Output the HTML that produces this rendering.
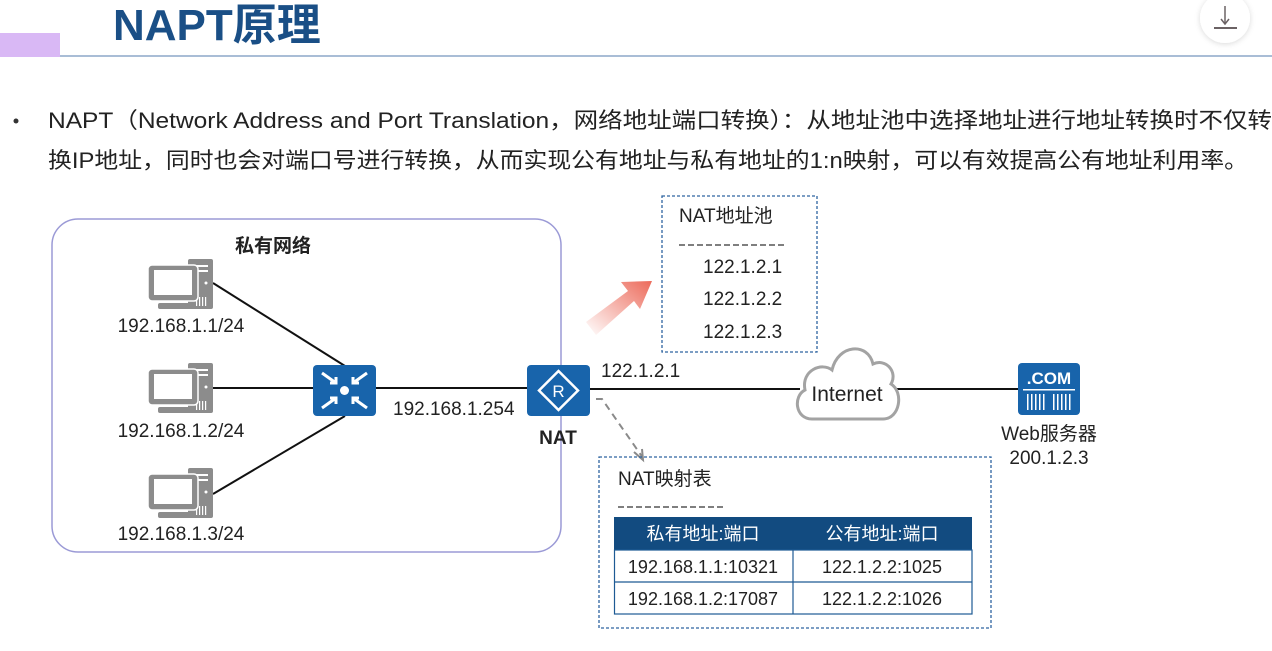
<!DOCTYPE html>
<html><head><meta charset="utf-8"><style>
html,body{margin:0;padding:0;background:#fff;}
body{width:1272px;height:651px;overflow:hidden;position:relative;font-family:"Liberation Sans","Noto Sans CJK SC",sans-serif;}
</style></head><body>
<svg width="1272" height="651" viewBox="0 0 1272 651" xmlns="http://www.w3.org/2000/svg" style="position:absolute;left:0;top:0;font-family:'Liberation Sans','Noto Sans CJK SC',sans-serif">
<defs>
<g id="pc">
 <rect x="40" y="0" width="25" height="50" rx="2" fill="#8c8c8c"/>
 <rect x="44" y="6" width="16" height="2" fill="#fff"/>
 <rect x="44" y="11" width="16" height="2" fill="#fff"/>
 <circle cx="58" cy="24" r="1.5" fill="#fff"/>
 <rect x="48" y="38" width="1.2" height="9" fill="#fff"/><rect x="51" y="38" width="1.2" height="9" fill="#fff"/><rect x="54" y="38" width="1.2" height="9" fill="#fff"/><rect x="57" y="38" width="1.2" height="9" fill="#fff"/>
 <rect x="0" y="6" width="50" height="36" rx="4" fill="#8c8c8c" stroke="#fff" stroke-width="1.5"/>
 <rect x="6" y="11" width="38" height="25" fill="#fff"/>
 <rect x="10" y="44" width="34" height="6" rx="2" fill="#8c8c8c"/>
</g>
<linearGradient id="rg" x1="0" y1="1" x2="1" y2="0">
 <stop offset="0" stop-color="#ec6a5a" stop-opacity="0"/>
 <stop offset="1" stop-color="#ec6a5a"/>
</linearGradient>
<filter id="sh" x="-50%" y="-50%" width="200%" height="200%"><feDropShadow dx="0" dy="1" stdDeviation="3" flood-color="#000" flood-opacity="0.15"/></filter>
</defs>

<rect x="0" y="33" width="60" height="24" fill="#d9b8f5"/>
<rect x="60" y="55" width="1212" height="2" fill="#a9bdd6"/>
<text x="113" y="40" font-size="44" font-weight="bold" fill="#1a4f86">NAPT原理</text>
<circle cx="1225" cy="18" r="25" fill="#fff" filter="url(#sh)"/>
<line x1="1225" y1="6" x2="1225" y2="23" stroke="#6b6264" stroke-width="1.5"/>
<path d="M1221 19 L1225 24 L1229 19" fill="none" stroke="#6b6264" stroke-width="1.5"/>
<line x1="1214" y1="28" x2="1237" y2="28" stroke="#6b6264" stroke-width="2"/>

<circle cx="16" cy="121" r="2.5" fill="#333"/>
<text x="48" y="128" font-size="22" fill="#222" textLength="1224" lengthAdjust="spacingAndGlyphs">NAPT（Network Address and Port Translation，网络地址端口转换）：从地址池中选择地址进行地址转换时不仅转</text>
<text x="48" y="168" font-size="22" fill="#222" textLength="1200" lengthAdjust="spacingAndGlyphs">换IP地址，同时也会对端口号进行转换，从而实现公有地址与私有地址的1:n映射，可以有效提高公有地址利用率。</text>

<rect x="52" y="219" width="509" height="333" rx="26" fill="none" stroke="#9b9ad6" stroke-width="1.5"/>
<text x="235" y="252" font-size="19" font-weight="bold" fill="#222">私有网络</text>

<g stroke="#111" stroke-width="2">
<line x1="213" y1="283" x2="345" y2="366"/>
<line x1="213" y1="388" x2="314" y2="388"/>
<line x1="213" y1="494" x2="345" y2="416"/>
<line x1="376" y1="388" x2="528" y2="388"/>
<line x1="590" y1="389" x2="800" y2="389"/>
<line x1="894" y1="389" x2="1019" y2="389"/>
</g>

<use href="#pc" x="148" y="259"/>
<use href="#pc" x="148" y="363"/>
<use href="#pc" x="148" y="468"/>
<g font-size="19" fill="#222" text-anchor="middle">
<text x="181" y="332">192.168.1.1/24</text>
<text x="181" y="437">192.168.1.2/24</text>
<text x="181" y="540">192.168.1.3/24</text>
</g>

<rect x="313" y="365" width="63" height="51" rx="4" fill="#1864ab"/>
<circle cx="344.5" cy="390.5" r="4.5" fill="#fff"/>
<g stroke="#fff" stroke-width="3" fill="none">
<path d="M322 373 L336 383 M330 383 L336 383 L336 377"/>
<path d="M367 373 L353 383 M359 383 L353 383 L353 377"/>
<path d="M322 408 L336 398 M330 398 L336 398 L336 404"/>
<path d="M367 408 L353 398 M359 398 L353 398 L353 404"/>
</g>

<rect x="527" y="365" width="63" height="51" rx="4" fill="#1864ab"/>
<path d="M558.5 371 L578 390.5 L558.5 410 L539 390.5 Z" fill="none" stroke="#fff" stroke-width="2.5"/>
<text x="558.5" y="397" font-size="17" fill="#fff" text-anchor="middle">R</text>
<text x="393" y="415" font-size="19" fill="#222">192.168.1.254</text>
<text x="558" y="444" font-size="19" font-weight="bold" fill="#222" text-anchor="middle">NAT</text>
<text x="601" y="377" font-size="19" fill="#222">122.1.2.1</text>

<path d="M812 419 C795 419 793 396 805 390 C801 370 822 362 832 370 C838 344 868 342 873 364 C886 358 898 372 891 384 C904 392 900 419 883 419 Z" fill="#fff" stroke="#a3a3a3" stroke-width="3"/>
<text x="847" y="401" font-size="21" fill="#222" text-anchor="middle">Internet</text>

<rect x="1018" y="363" width="62" height="52" rx="4" fill="#1864ab"/>
<text x="1049" y="384" font-size="17" font-weight="bold" fill="#fff" text-anchor="middle">.COM</text>
<rect x="1023" y="389" width="52" height="1.5" fill="#fff"/>
<g fill="#fff">
<rect x="1027" y="394" width="1.5" height="16"/><rect x="1031" y="394" width="1.5" height="16"/><rect x="1035" y="394" width="1.5" height="16"/><rect x="1039" y="394" width="1.5" height="16"/><rect x="1043" y="394" width="1.5" height="16"/>
<rect x="1053" y="394" width="1.5" height="16"/><rect x="1057" y="394" width="1.5" height="16"/><rect x="1061" y="394" width="1.5" height="16"/><rect x="1065" y="394" width="1.5" height="16"/><rect x="1069" y="394" width="1.5" height="16"/>
</g>
<text x="1049" y="440" font-size="19" fill="#222" text-anchor="middle">Web服务器</text>
<text x="1049" y="464" font-size="19" fill="#222" text-anchor="middle">200.1.2.3</text>

<rect x="662" y="196" width="155" height="156" fill="none" stroke="#2e64a0" stroke-width="1.3" stroke-dasharray="3,2"/>
<g font-size="19" fill="#222">
<text x="679" y="222">NAT地址池</text>
<text x="703" y="273">122.1.2.1</text>
<text x="703" y="305">122.1.2.2</text>
<text x="703" y="338">122.1.2.3</text>
</g>
<line x1="679" y1="245" x2="786" y2="245" stroke="#333" stroke-width="1.3" stroke-dasharray="6,3"/>

<path d="M586 322 L628 291 L621 282 L652 281 L640 309 L634 301 L596 335 Z" fill="url(#rg)"/>

<path d="M596 399 L602 399 L643 458" fill="none" stroke="#8a8a8a" stroke-width="2" stroke-dasharray="7,5"/>
<path d="M634 452 L643 460 L642 449" fill="none" stroke="#8a8a8a" stroke-width="2"/>

<rect x="599" y="457" width="392" height="171" fill="none" stroke="#2e64a0" stroke-width="1.3" stroke-dasharray="3,2"/>
<text x="618" y="485" font-size="19" fill="#222">NAT映射表</text>
<line x1="618" y1="507" x2="723" y2="507" stroke="#333" stroke-width="1.3" stroke-dasharray="6,3"/>
<rect x="614" y="517" width="358" height="33" fill="#124b80"/>
<rect x="614.5" y="550" width="357.5" height="64" fill="#fff" stroke="#1d5a94" stroke-width="1.2"/>
<line x1="614" y1="582" x2="972" y2="582" stroke="#1d5a94" stroke-width="1.2"/>
<line x1="793" y1="550" x2="793" y2="614" stroke="#1d5a94" stroke-width="1.2"/>
<g font-size="18" text-anchor="middle">
<text x="703" y="540" fill="#fff">私有地址:端口</text>
<text x="882" y="540" fill="#fff">公有地址:端口</text>
<text x="703" y="573" fill="#222">192.168.1.1:10321</text>
<text x="882" y="573" fill="#222">122.1.2.2:1025</text>
<text x="703" y="605" fill="#222">192.168.1.2:17087</text>
<text x="882" y="605" fill="#222">122.1.2.2:1026</text>
</g>
</svg>
</body></html>
